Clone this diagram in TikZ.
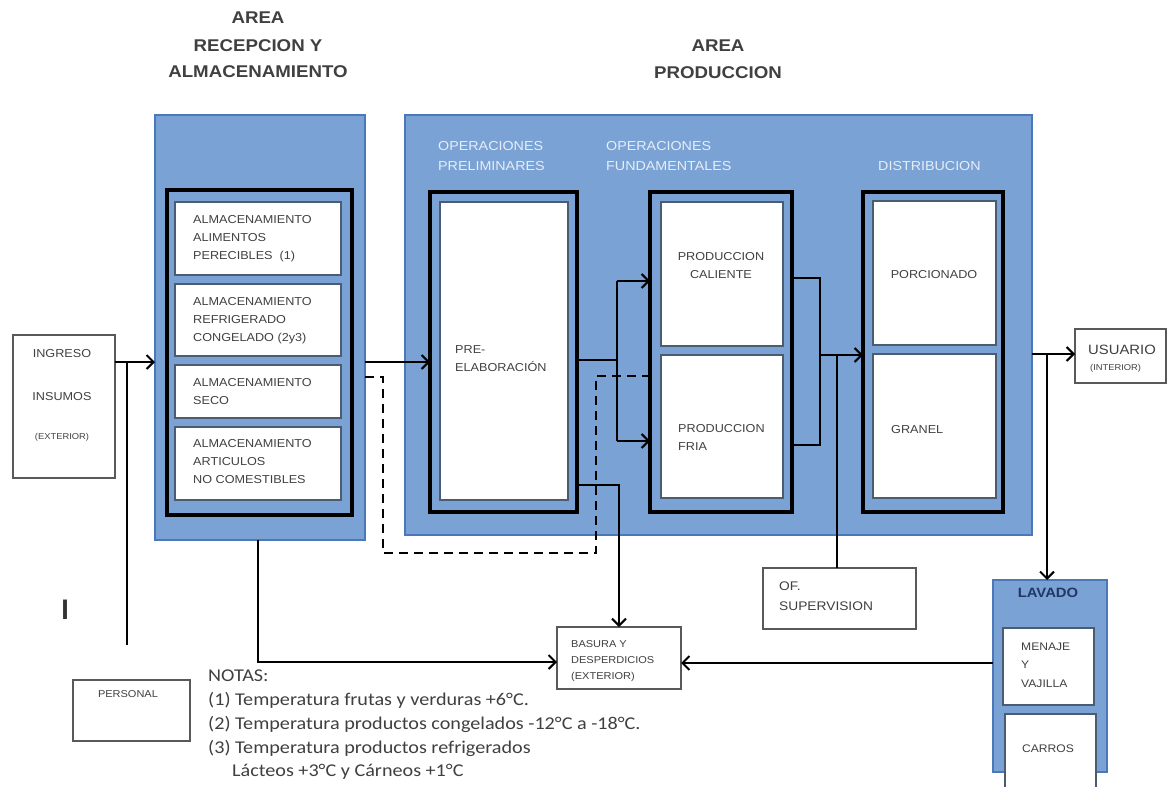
\documentclass[tikz,border=0pt]{standalone}
\usepackage{fontspec}
\setmainfont{Liberation Sans}[FakeStretch=1.1]
\newfontfamily\notefont{Carlito}[FakeStretch=1.12]
\newfontfamily\markfont{Carlito}
\usetikzlibrary{arrows.meta}
\definecolor{areablue}{HTML}{7BA2D5}
\definecolor{areaedge}{HTML}{4A78B8}
\definecolor{txt}{HTML}{404040}
\definecolor{pale}{HTML}{E6EDF6}
\definecolor{slate}{HTML}{4B5B70}
\definecolor{navy}{HTML}{1F3864}
\tikzset{
  bx/.style={anchor=north west, inner sep=0pt, outer sep=0pt},
  bluebox/.style={bx, fill=areablue, draw=areaedge, line width=2pt},
  frm/.style={bx, draw=black, line width=3.5pt},
  inbox/.style={bx, fill=white, draw=slate, line width=1.5pt},
  plain/.style={bx, fill=white, draw=black!65, line width=1.5pt},
  lbl/.style={text=txt, font=\fontsize{11.5}{18}\selectfont, inner sep=0pt, align=left, anchor=west},
  clbl/.style={lbl, anchor=center, align=center},
  small/.style={lbl, font=\fontsize{8.5}{10}\selectfont},
  hdr/.style={text=pale, font=\fontsize{13}{20}\selectfont, inner sep=0pt, align=left, anchor=west},
  ttl/.style={text=txt, font=\bfseries\fontsize{17}{20}\selectfont, inner sep=0pt},
  note/.style={text=txt, font=\notefont\fontsize{18}{20}\selectfont, inner sep=0pt, anchor=west},
  conn/.style={draw=black, line width=2pt},
  arr/.style={conn, -{Straight Barb[length=7pt,width=14pt]}},
  dashln/.style={conn, dash pattern=on 9pt off 6pt}
}
\begin{document}
\begin{tikzpicture}[x=1pt,y=-1pt]
\useasboundingbox (0,0) rectangle (1168,787);
\fill[white] (0,0) rectangle (1168,787);

% titles
\node[ttl] (t1) at (258,18) {AREA};
\node[ttl] (t2) at (258,46) {RECEPCION Y};
\node[ttl] (t3) at (258,72) {ALMACENAMIENTO};
\node[ttl] (t4) at (718,46) {AREA};
\node[ttl] (t5) at (718,73) {PRODUCCION};

% reception area
\node[bluebox, minimum width=210, minimum height=425] (recep) at (155,115) {};
\node[frm, minimum width=185, minimum height=325] (recepframe) at (167,190) {};
\node[inbox, minimum width=166, minimum height=73] (alm1) at (175,202) {};
\node[inbox, minimum width=166, minimum height=72] (alm2) at (175,284) {};
\node[inbox, minimum width=166, minimum height=53] (alm3) at (175,365) {};
\node[inbox, minimum width=166, minimum height=73] (alm4) at (175,427) {};
\node[lbl] (la1) at (193,238.5) {ALMACENAMIENTO\\ALIMENTOS\\PERECIBLES\ \ (1)};
\node[lbl] (la2) at (193,321) {ALMACENAMIENTO\\REFRIGERADO\\CONGELADO (2y3)};
\node[lbl] (la3) at (193,392) {ALMACENAMIENTO\\SECO};
\node[lbl] (la4) at (193,462) {ALMACENAMIENTO\\ARTICULOS\\NO COMESTIBLES};

% production area
\node[bluebox, minimum width=627, minimum height=420] (prod) at (405,115) {};
\node[hdr] (h1) at (438,156) {OPERACIONES\\PRELIMINARES};
\node[hdr] (h2) at (606,156) {OPERACIONES\\FUNDAMENTALES};
\node[hdr] (h3) at (878,166) {DISTRIBUCION};

\node[frm, minimum width=147, minimum height=320] (preframe) at (430,192) {};
\node[inbox, minimum width=128, minimum height=298] (prewhite) at (440,202) {};
\node[lbl] (lpre) at (455,359) {PRE-\\ELABORACIÓN};

\node[frm, minimum width=142, minimum height=320] (fundframe) at (650,192) {};
\node[inbox, minimum width=122, minimum height=144] (cal) at (661,202) {};
\node[inbox, minimum width=122, minimum height=143] (fria) at (661,355) {};
\node[clbl] (lcal) at (721,266) {PRODUCCION\\CALIENTE};
\node[lbl] (lfria) at (678,437.5) {PRODUCCION\\FRIA};

\node[frm, minimum width=140, minimum height=320] (distframe) at (863,192) {};
\node[inbox, minimum width=123, minimum height=144] (porc) at (873,201) {};
\node[inbox, minimum width=123, minimum height=144] (granel) at (873,354) {};
\node[clbl] (lporc) at (934,275) {PORCIONADO};
\node[lbl] (lgran) at (891,430) {GRANEL};

% outside boxes
\node[plain, minimum width=102, minimum height=143] (ingreso) at (13,335) {};
\node[clbl] (ling1) at (62,354) {INGRESO};
\node[clbl] (ling2) at (62,397) {INSUMOS};
\node[small, anchor=center] (ling3) at (62,437) {(EXTERIOR)};

\node[plain, minimum width=91, minimum height=54] (usuario) at (1075,329) {};
\node[lbl, font=\fontsize{13.5}{15}\selectfont] (lusu1) at (1088,350) {USUARIO};
\node[small] (lusu2) at (1090,368) {(INTERIOR)};

\node[plain, minimum width=117, minimum height=61] (personal) at (73,680) {};
\node[clbl, font=\fontsize{10}{12}\selectfont] (lpers) at (128,694) {PERSONAL};

\node[plain, minimum width=124, minimum height=62] (basura) at (557,627) {};
\node[lbl, font=\fontsize{10}{16}\selectfont] (lbas) at (571,661) {BASURA Y\\DESPERDICIOS\\(EXTERIOR)};

\node[plain, minimum width=153, minimum height=61] (superv) at (763,568) {};
\node[lbl, font=\fontsize{12.5}{20}\selectfont] (lsup) at (779,596) {OF.\\SUPERVISION};

\node[bluebox, minimum width=114, minimum height=192] (lavado) at (993,580) {};
\node[ttl, text=navy, font=\bfseries\fontsize{13.5}{15}\selectfont] (llav) at (1048,593) {LAVADO};
\node[plain, draw=slate, minimum width=91, minimum height=77] (menaje) at (1003,628) {};
\node[lbl, font=\fontsize{11}{18.5}\selectfont] (lmen) at (1021,665) {MENAJE\\Y\\VAJILLA};
\node[plain, draw=slate, minimum width=91, minimum height=80] (carros) at (1005,714) {};
\node[clbl, font=\fontsize{11}{13}\selectfont] (lcar) at (1048,749) {CARROS};

\node[text=black!80, font=\markfont\bfseries\fontsize{30}{30}\selectfont, inner sep=0pt] (imark) at (65,610) {I};

% notes
\node[note] (notas) at (208,676) {NOTAS:};
\node[note] (n1) at (208,700) {(1) Temperatura frutas y verduras +6°C.};
\node[note] (n2) at (208,724) {(2) Temperatura productos congelados -12°C a -18°C.};
\node[note] (n3) at (208,748) {(3) Temperatura productos refrigerados};
\node[note] (n4) at (232,772) {Lácteos +3°C y Cárneos +1°C};

% connectors
\coordinate (hIn) at (0,362);
\draw[arr] (ingreso.east |- hIn) -- (recep.west |- hIn);
\coordinate (persTop) at (127,645);
\draw[conn] (persTop) -- (persTop |- hIn);
\draw[arr] (recep.east |- hIn) -- (preframe.west |- hIn);

\coordinate (hD) at (0,377);
\coordinate (d1) at (383,553);
\coordinate (d2) at (596,376);
\draw[dashln] (recep.east |- hD) -| (d1) -| (d2) -- (fundframe.west |- d2);

\coordinate (sp) at (617,360);
\coordinate (spT) at (617,281);
\coordinate (spB) at (617,441);
\draw[conn] (preframe.east |- sp) -- (sp);
\draw[conn] (spT) -- (spB);
\draw[arr] (spT) -- (fundframe.west |- spT);
\draw[arr] (spB) -- (fundframe.west |- spB);
\coordinate (pb) at (0,485);
\draw[arr] (preframe.east |- pb) -| (basura.north);

\coordinate (fT) at (820,278);
\coordinate (fB) at (820,445);
\coordinate (fm) at (820,355);
\draw[conn] (fundframe.east |- fT) -- (fT) -- (fB) -- (fundframe.east |- fB);
\draw[arr] (fm) -- (distframe.west |- fm);
\coordinate (sv) at (837,355);
\draw[conn] (sv) -- (sv |- superv.north);

\coordinate (dO) at (0,354);
\draw[arr] (prod.east |- dO) -- (usuario.west |- dO);
\coordinate (lv) at (1047,354);
\draw[arr] (lv) -- (lv |- lavado.north);

\coordinate (lb) at (0,663);
\draw[arr] (lavado.west |- lb) -- (basura.east |- lb);
\coordinate (rb) at (258,662);
\draw[arr] (recep.south -| rb) |- (basura.west |- rb);
\end{tikzpicture}
\end{document}
